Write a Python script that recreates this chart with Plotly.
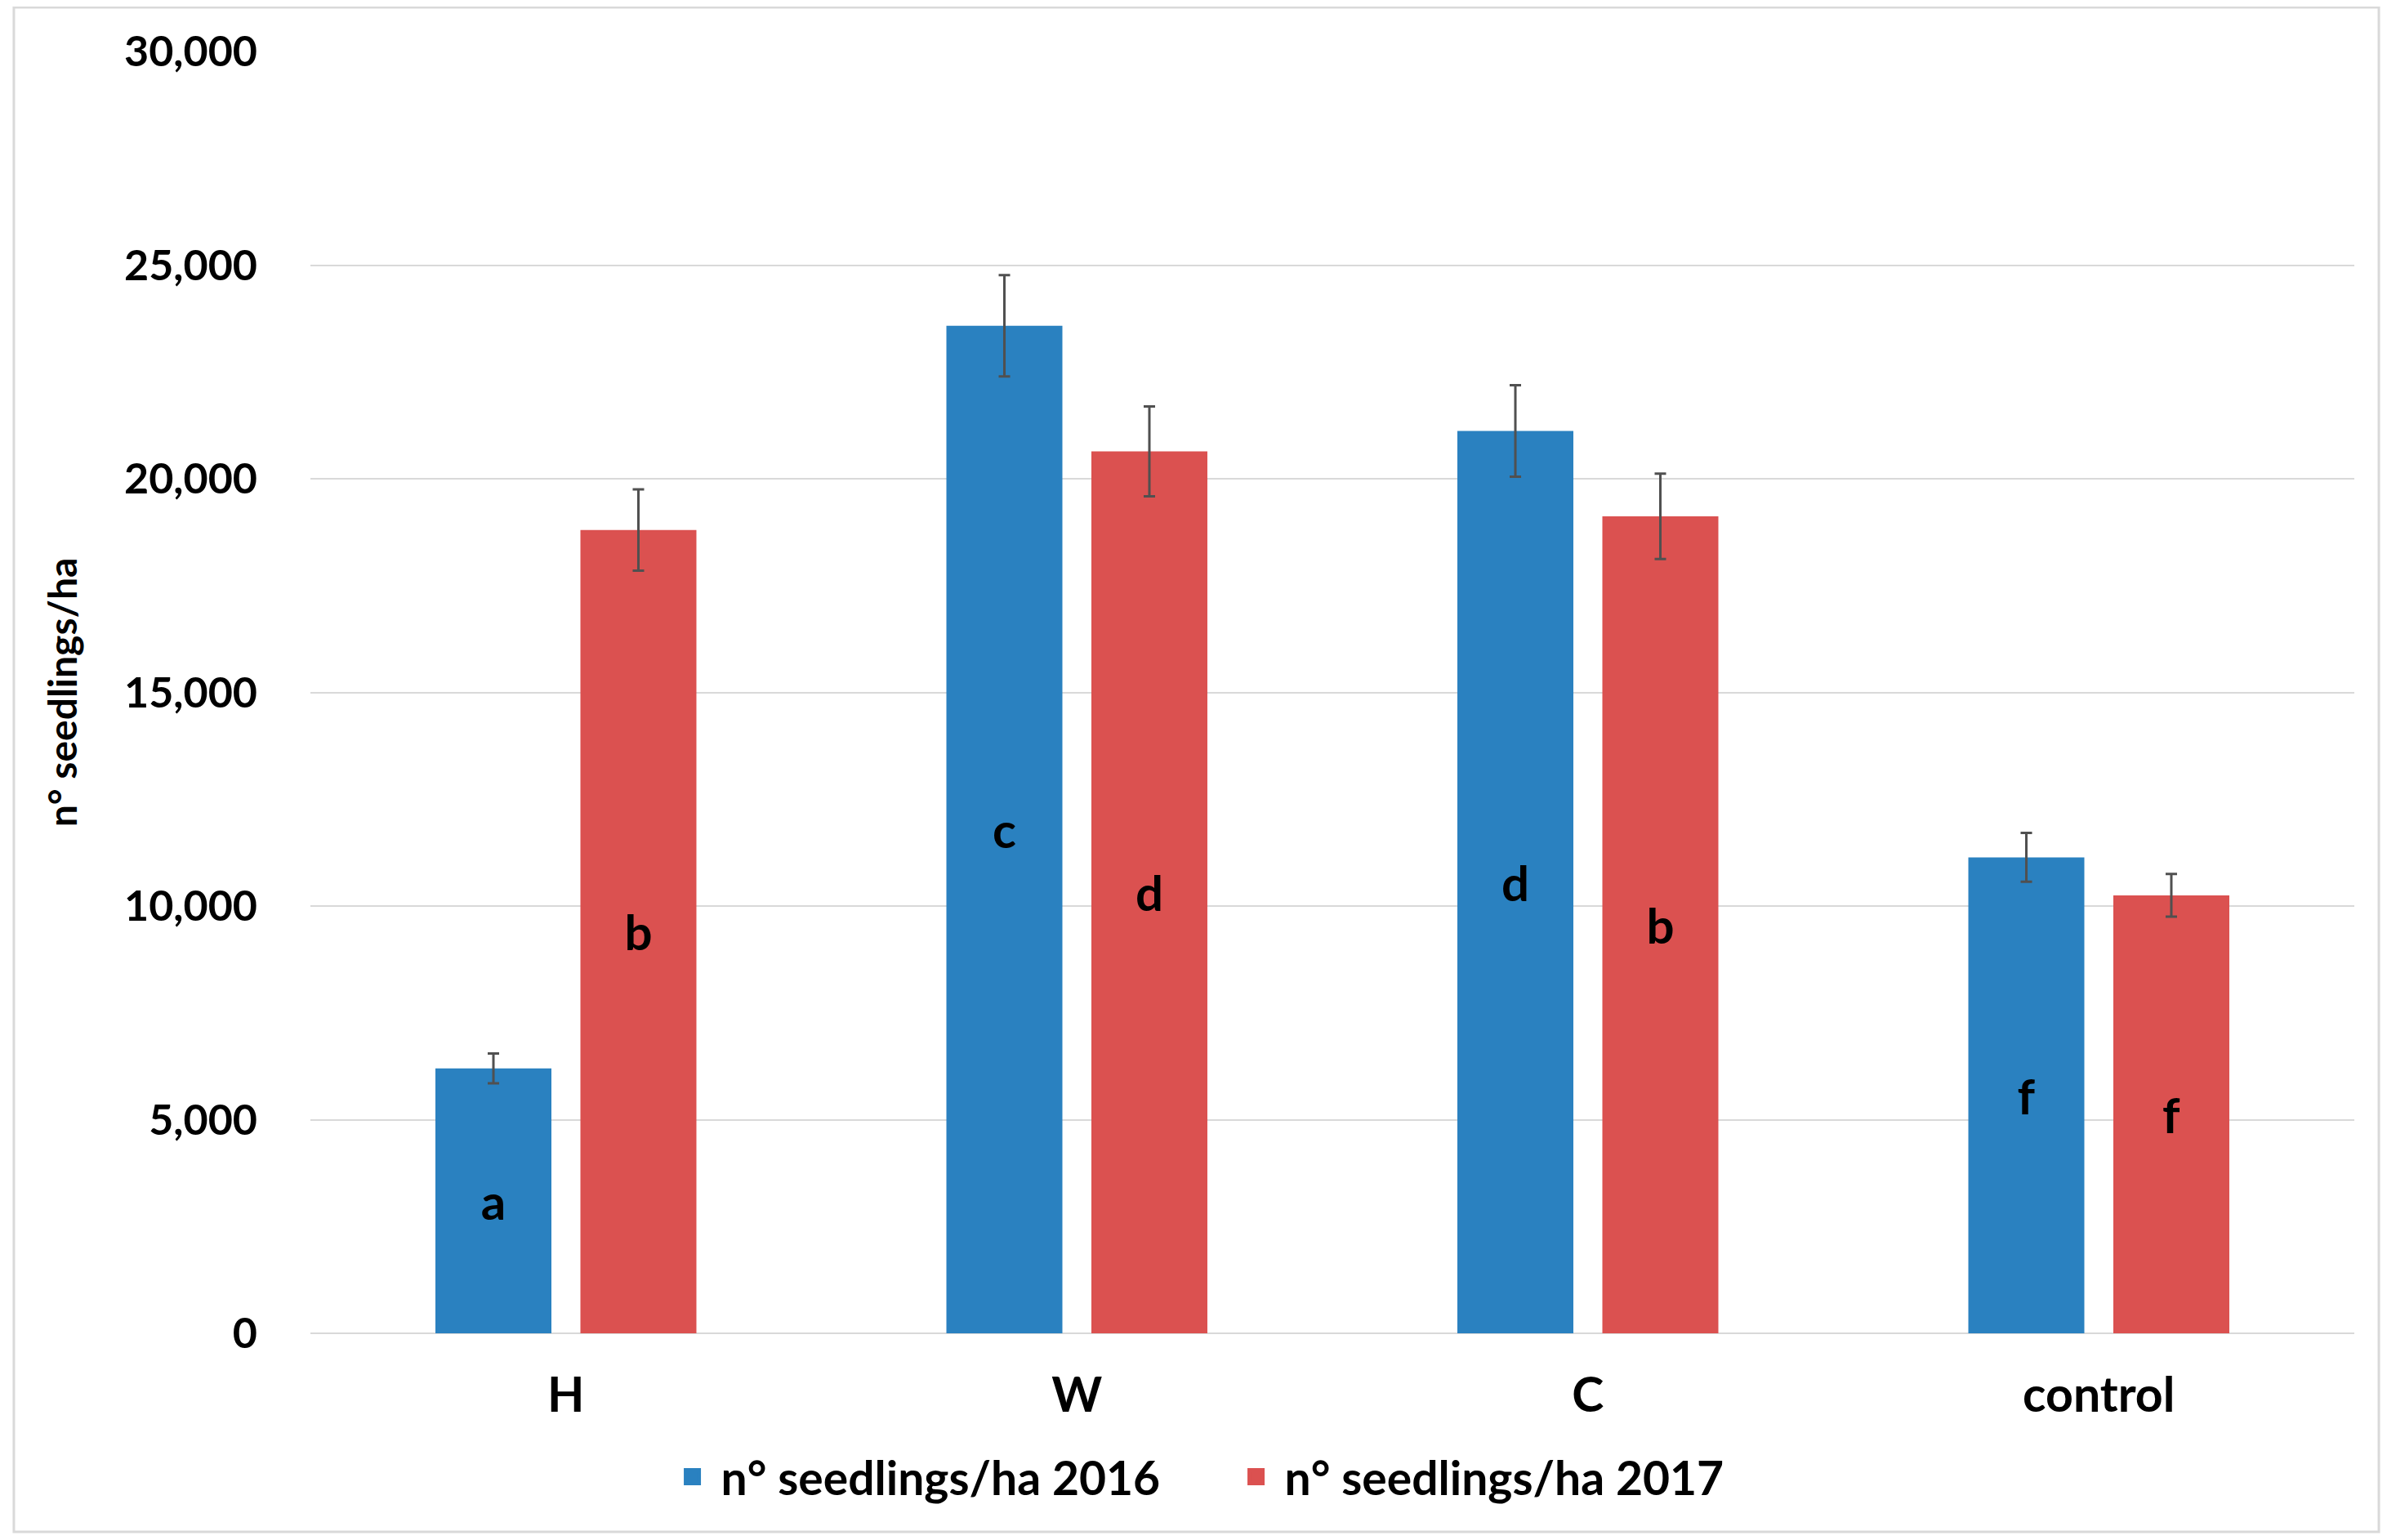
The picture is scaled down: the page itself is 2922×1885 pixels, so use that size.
import plotly.graph_objects as go

categories = ["H", "W", "C", "control"]
series_names = ["n° seedlings/ha 2016", "n° seedlings/ha 2017"]
values_2016 = [6200, 23580, 21120, 11140]
values_2017 = [18800, 20640, 19120, 10250]
errors_2016 = [350, 1185, 1070, 570]
errors_2017 = [950, 1050, 1000, 500]
letters_2016 = ["a", "c", "d", "f"]
letters_2017 = ["b", "d", "b", "f"]
y_ticks = [0, 5000, 10000, 15000, 20000, 25000, 30000]

BLUE = "#2A81C0"
RED = "#DB5150"
FONT = "Lato"
# page body has an 8px default margin; figure sized so page stays 2922x1885
W, H = 2906, 1869

fig = go.Figure()
for name, vals, errs, letters, color in [
    (series_names[0], values_2016, errors_2016, letters_2016, BLUE),
    (series_names[1], values_2017, errors_2017, letters_2017, RED),
]:
    fig.add_trace(go.Bar(
        x=categories, y=vals, name=name, marker=dict(color=color, line=dict(width=0)),
        text=letters, textposition="inside", insidetextanchor="middle",
        textfont=dict(family=FONT, size=60, color="black", weight="bold"),
        error_y=dict(type="data", array=errs, visible=True, color="#505050", thickness=3, width=7),
        showlegend=False,
    ))
    # legend proxy
    fig.add_trace(go.Scatter(
        x=[None], y=[None], mode="markers", name=name,
        marker=dict(symbol="square", size=16, color=color, line=dict(color=color, width=5)),
        showlegend=True,
    ))

fig.update_layout(
    width=W, height=H,
    paper_bgcolor="white", plot_bgcolor="white",
    margin=dict(l=372, r=32, t=55, b=245),
    barmode="group", bargap=0.4325, bargroupgap=0.2,
    font=dict(family=FONT, color="black"),
    legend=dict(orientation="h", xref="container", x=0.5143, xanchor="center",
                yref="container", y=0.037, yanchor="middle",
                font=dict(family=FONT, size=57, color="black", weight="bold"),
                itemwidth=60, tracegroupgap=0, entrywidthmode="pixels", entrywidth=615),
    shapes=[dict(type="rect", xref="paper", yref="paper", x0=-0.1451, x1=1.012,
                 y0=-0.1549, y1=1.0344, line=dict(color="#d9d9d9", width=3), layer="below")],
)
fig.update_xaxes(
    tickfont=dict(family=FONT, size=59, color="black", weight="bold"),
    showgrid=False, showline=False, ticks="", ticklabelstandoff=36,
    automargin=False,
)
fig.update_yaxes(
    range=[0, 30000], tickvals=y_ticks, tickformat=",",
    tickfont=dict(family=FONT, size=52, color="black", weight="bold"),
    showgrid=True, gridcolor="#d9d9d9", gridwidth=2,
    zeroline=True, zerolinecolor="#d9d9d9", zerolinewidth=2,
    showline=False, ticks="", ticklabelstandoff=64,
    title=dict(text="n° seedlings/ha", font=dict(family=FONT, size=48, color="black", weight="bold"), standoff=42),
    automargin=False,
)

fig.write_html("out.html")
